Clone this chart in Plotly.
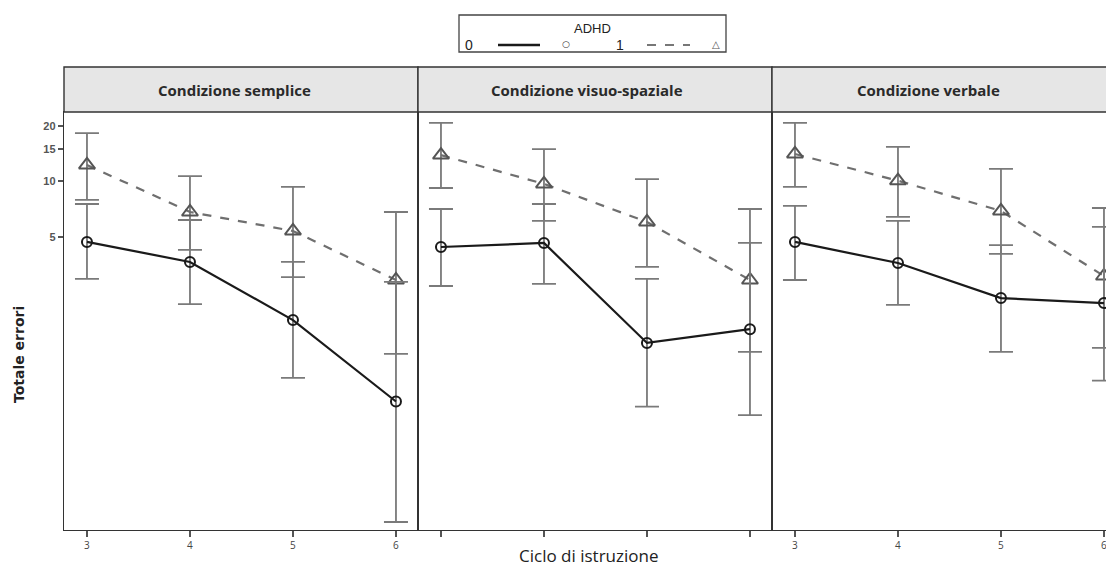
import plotly.graph_objects as go

cycles = [3, 4, 5, 6]
tick_labels = ["3", "4", "5", "6"]
conditions = ["Condizione semplice", "Condizione visuo-spaziale", "Condizione verbale"]
y_ticks = [5, 10, 15, 20]

# ADHD = 0 (mean, lower, upper)
semplice_0_mean = [4.70, 3.66, 1.77, 0.64]
semplice_0_low = [2.96, 2.16, 0.86, 0.142]
semplice_0_high = [7.55, 6.18, 3.66, 2.85]
visuo_0_mean = [4.41, 4.64, 1.33, 1.58]
visuo_0_low = [2.71, 2.78, 0.60, 0.54]
visuo_0_high = [7.09, 7.55, 2.96, 4.64]
verbale_0_mean = [4.70, 3.61, 2.33, 2.19]
verbale_0_low = [2.92, 2.14, 1.19, 0.83]
verbale_0_high = [7.37, 6.11, 4.52, 5.67]

# ADHD = 1 (mean, lower, upper)
semplice_1_mean = [12.3, 6.83, 5.39, 2.92]
semplice_1_low = [7.94, 4.25, 3.03, 1.16]
semplice_1_high = [18.3, 10.7, 9.34, 6.83]
visuo_1_mean = [13.9, 9.70, 6.03, 2.92]
visuo_1_low = [9.22, 6.11, 3.44, 1.19]
visuo_1_high = [20.8, 15.0, 10.3, 7.09]
verbale_1_mean = [14.1, 10.1, 6.92, 3.07]
verbale_1_low = [9.34, 6.42, 4.05, 1.25]
verbale_1_high = [20.8, 15.4, 11.7, 7.18]

panels = [
    (semplice_0_mean, semplice_0_low, semplice_0_high, semplice_1_mean, semplice_1_low, semplice_1_high),
    (visuo_0_mean, visuo_0_low, visuo_0_high, visuo_1_mean, visuo_1_low, visuo_1_high),
    (verbale_0_mean, verbale_0_low, verbale_0_high, verbale_1_mean, verbale_1_low, verbale_1_high),
]

# page body has an 8px margin; figure drawn at offset (8, 8)
OFF = 8
W, H = 1114 - OFF, 571 - OFF
ML, MR, MT, MB = 64 - OFF, 0, 112 - OFF, 41
PW = W - ML - MR
PH = H - MT - MB

def px(xp):
    return (xp - OFF - ML) / PW

def py(yp):
    return (H - MB - (yp - OFF)) / PH

fig = go.Figure()

EB_COLOR = "#7a7a7a"
for i, (m0, l0, h0, m1, l1, h1) in enumerate(panels):
    suffix = "" if i == 0 else str(i + 1)
    xa, ya = "x" + suffix, "y" + suffix
    fig.add_trace(go.Scatter(
        x=cycles, y=m1, xaxis=xa, yaxis=ya, mode="lines+markers",
        line=dict(color="#6f6f6f", width=2.2, dash="dash"),
        marker=dict(symbol="triangle-up-open", size=14, color="#555555", line=dict(width=2)),
        error_y=dict(type="data", symmetric=False,
                     array=[h - m for h, m in zip(h1, m1)],
                     arrayminus=[m - l for m, l in zip(m1, l1)],
                     color=EB_COLOR, thickness=1.8, width=12),
        showlegend=False, cliponaxis=False,
    ))
    fig.add_trace(go.Scatter(
        x=cycles, y=m0, xaxis=xa, yaxis=ya, mode="lines+markers",
        line=dict(color="#1a1a1a", width=2.2),
        marker=dict(symbol="circle-open", size=10, color="#1a1a1a", line=dict(width=2)),
        error_y=dict(type="data", symmetric=False,
                     array=[h - m for h, m in zip(h0, m0)],
                     arrayminus=[m - l for m, l in zip(m0, l0)],
                     color=EB_COLOR, thickness=1.8, width=12),
        showlegend=False, cliponaxis=False,
    ))

# panel pixel extents (page coordinates)
panel_px = [(64, 418), (418, 772), (772, 1114)]
x_left = 2.777
unit_px = 103.0

layout = dict(
    width=W, height=H,
    margin=dict(l=ML, r=MR, t=MT, b=MB),
    paper_bgcolor="white", plot_bgcolor="white",
    showlegend=False,
)

for i, (a, b) in enumerate(panel_px):
    suffix = "" if i == 0 else str(i + 1)
    xr = [x_left, x_left + (b - a) / unit_px]
    layout["xaxis" + suffix] = dict(
        domain=[px(a), px(b)], range=xr, tickvals=cycles, ticktext=tick_labels,
        showticklabels=(i != 1), ticks="outside", ticklen=6, tickwidth=1.5, tickcolor="#555",
        tickfont=dict(family="Open Sans", size=10, color="#444"),
        showline=True, linecolor="#333", linewidth=1.4, mirror=True,
        showgrid=False, zeroline=False, anchor="y" + suffix,
    )
    yax = dict(
        type="log", range=[-0.891, 1.377], domain=[0, 1],
        showgrid=False, zeroline=False,
        showline=True, linecolor="#333", linewidth=1.4, mirror=True,
        anchor="x" + suffix,
    )
    if i == 0:
        yax.update(tickvals=y_ticks, ticktext=["<b>%d</b>" % v for v in y_ticks],
                   ticks="outside", ticklen=5, tickwidth=1.5, tickcolor="#555",
                   tickfont=dict(family="Liberation Sans", size=11, color="#555"))
    else:
        yax.update(showticklabels=False, ticks="")
    layout["yaxis" + suffix] = yax

fig.update_layout(**layout)

shapes = []
annotations = []
strip_centers = [234, 587, 928]
# strips
for i, (a, b) in enumerate(panel_px):
    shapes.append(dict(type="rect", xref="paper", yref="paper",
                       x0=px(a), x1=px(b) if i < 2 else px(b) + 0.02, y0=py(112), y1=py(67),
                       fillcolor="#e6e6e6", line=dict(color="#333", width=1.4)))
    annotations.append(dict(xref="paper", yref="paper", x=px(strip_centers[i]),
                            y=py(89.5), text="<b>" + conditions[i] + "</b>", showarrow=False,
                            font=dict(family="Open Sans", size=15, color="#2a2a2a"),
                            xanchor="center", yanchor="middle"))

# legend box
shapes.append(dict(type="rect", xref="paper", yref="paper",
                   x0=px(459), x1=px(726), y0=py(52), y1=py(15),
                   fillcolor="white", line=dict(color="#444", width=1.3)))
shapes.append(dict(type="line", xref="paper", yref="paper",
                   x0=px(498), x1=px(540), y0=py(45), y1=py(45),
                   line=dict(color="#1a1a1a", width=2.4)))
shapes.append(dict(type="line", xref="paper", yref="paper",
                   x0=px(647), x1=px(690), y0=py(45), y1=py(45),
                   line=dict(color="#777", width=2, dash="dash")))
annotations += [
    dict(xref="paper", yref="paper", x=px(592), y=py(29), text="ADHD", showarrow=False,
         font=dict(family="Liberation Sans", size=13, color="#222"), xanchor="center", yanchor="middle"),
    dict(xref="paper", yref="paper", x=px(469), y=py(45), text="0", showarrow=False,
         font=dict(family="Liberation Sans", size=14, color="#222"), xanchor="center", yanchor="middle"),
    dict(xref="paper", yref="paper", x=px(620), y=py(45), text="1", showarrow=False,
         font=dict(family="Liberation Sans", size=14, color="#222"), xanchor="center", yanchor="middle"),
    dict(xref="paper", yref="paper", x=px(566), y=py(44), text="○", showarrow=False,
         font=dict(family="DejaVu Sans", size=9, color="#333"), xanchor="center", yanchor="middle"),
    dict(xref="paper", yref="paper", x=px(716), y=py(44), text="△", showarrow=False,
         font=dict(family="DejaVu Sans", size=10, color="#555"), xanchor="center", yanchor="middle"),
    dict(xref="paper", yref="paper", x=px(588), y=py(555), text="Ciclo di istruzione", showarrow=False,
         font=dict(family="Open Sans", size=17, color="#222"), xanchor="center", yanchor="middle"),
    dict(xref="paper", yref="paper", x=px(19), y=py(355), text="<b>Totale errori</b>", showarrow=False,
         textangle=-90, font=dict(family="DejaVu Sans", size=14, color="#222"),
         xanchor="center", yanchor="middle"),
]

fig.update_layout(shapes=shapes, annotations=annotations)
fig.write_html("out.html")
